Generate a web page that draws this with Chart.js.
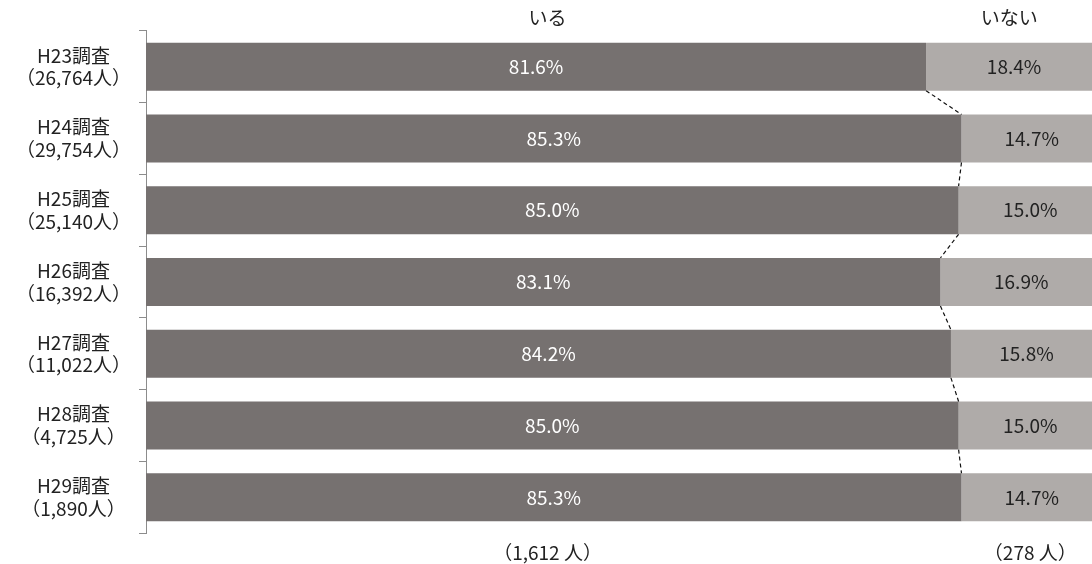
<!DOCTYPE html>
<html><head><meta charset="utf-8">
<script src="https://cdn.jsdelivr.net/npm/chart.js@4"></script>
<style>
html,body{margin:0;padding:0;background:#fff;overflow:hidden;}
#wrap{width:1102px;height:564px;position:relative;}
</style></head>
<body><div id="wrap"><canvas id="c"></canvas></div>
<script>
const categories = [
  ['H23調査','（26,764人）'],
  ['H24調査','（29,754人）'],
  ['H25調査','（25,140人）'],
  ['H26調査','（16,392人）'],
  ['H27調査','（11,022人）'],
  ['H28調査','（4,725人）'],
  ['H29調査','（1,890人）']
];
const seriesNames = ['いる','いない'];
const iruValues = [81.6, 85.3, 85.0, 83.1, 84.2, 85.0, 85.3];
const inaiValues = [18.4, 14.7, 15.0, 16.9, 15.8, 15.0, 14.7];
const footerLabels = ['（1,612 人）', '（278 人）'];

const FONT = '"Noto Sans CJK JP", "Noto Sans", sans-serif';

const overlay = {
  id: 'overlay',
  afterDatasetsDraw(chart) {
    const ctx = chart.ctx;
    const xs = chart.scales.x;
    // dashed connectors
    const m0 = chart.getDatasetMeta(0).data;
    ctx.save();
    ctx.strokeStyle = '#111';
    ctx.lineWidth = 1.2;
    ctx.setLineDash([4, 3]);
    for (let i = 0; i < m0.length - 1; i++) {
      const a = m0[i].getProps(['x','y','height'], true);
      const b = m0[i+1].getProps(['x','y','height'], true);
      ctx.beginPath();
      ctx.moveTo(a.x, a.y + a.height/2);
      ctx.lineTo(b.x, b.y - b.height/2);
      ctx.stroke();
    }
    ctx.restore();
    // value labels
    ctx.save();
    ctx.textAlign = 'center';
    ctx.textBaseline = 'middle';
    ctx.font = '19px ' + FONT;
    chart.data.datasets.forEach((ds, di) => {
      const meta = chart.getDatasetMeta(di);
      meta.data.forEach((el, i) => {
        const p = el.getProps(['x','y','base'], true);
        ctx.fillStyle = di === 0 ? '#ffffff' : '#222222';
        ctx.fillText(ds.data[i].toFixed(1) + '%', (p.x + p.base)/2, p.y);
      });
    });
    // headers and footers
    ctx.fillStyle = '#222';
    ctx.font = '19px ' + FONT;
    ctx.fillText(seriesNames[0], xs.getPixelForValue(42), 18);
    ctx.fillText(seriesNames[1], xs.getPixelForValue(90.3), 18);
    ctx.fillText(footerLabels[0], xs.getPixelForValue(42), 553);
    ctx.fillText(footerLabels[1], xs.getPixelForValue(92.5), 553);
    ctx.restore();
  }
};

new Chart(document.getElementById('c'), {
  type: 'bar',
  data: {
    labels: categories,
    datasets: [
      { label: seriesNames[0], data: iruValues, backgroundColor: '#767170' },
      { label: seriesNames[1], data: inaiValues, backgroundColor: '#afaba9' }
    ]
  },
  options: {
    indexAxis: 'y',
    responsive: true,
    maintainAspectRatio: false,
    animation: false,
    events: [],
    layout: { padding: { top: 30, bottom: 24, left: 0, right: 0 } },
    datasets: { bar: { categoryPercentage: 1, barPercentage: 0.67 } },
    plugins: { legend: { display: false }, tooltip: { enabled: false } },
    scales: {
      x: { stacked: true, min: 0, max: 100, display: false },
      y: {
        stacked: true,
        grid: { drawOnChartArea: false, offset: true, tickLength: 7, color: '#8c8c8c' },
        border: { color: '#8c8c8c' },
        ticks: { crossAlign: 'center', padding: 8, color: '#222', lineHeight: 1.3, font: { family: FONT, size: 19 } },
        afterFit(s) { s.width = 146; }
      }
    }
  },
  plugins: [overlay]
});
</script>
</body></html>
